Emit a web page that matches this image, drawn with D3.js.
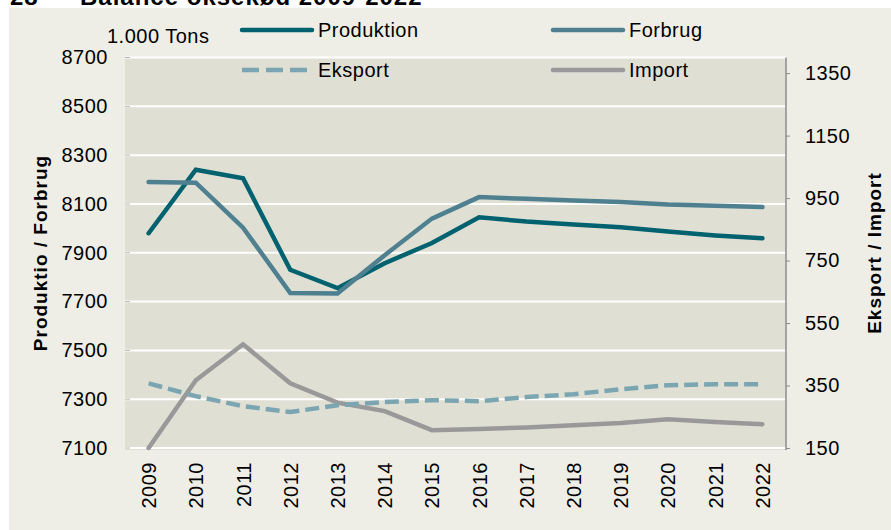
<!DOCTYPE html>
<html><head><meta charset="utf-8">
<script src="https://cdn.jsdelivr.net/npm/d3@7"></script>
<style>
html,body{margin:0;padding:0;background:#fff;}
svg{display:block;font-family:"Liberation Sans",Arial,sans-serif;}
</style></head>
<body><svg id="c" width="891" height="530"></svg>
<script>
const years = ["2009","2010","2011","2012","2013","2014","2015","2016","2017","2018","2019","2020","2021","2022"];
const produktion = [7980, 8240, 8205, 7830, 7755, 7857, 7940, 8045, 8028, 8016, 8004, 7987, 7971, 7959];
const forbrug    = [8190, 8187, 8003, 7735, 7733, 7890, 8040, 8128, 8121, 8114, 8108, 8098, 8093, 8087];
const eksport    = [357, 316, 284, 265, 287, 297, 303, 300, 313, 322, 338, 351, 354, 354];
const importV    = [150, 367, 482, 357, 295, 268, 207, 211, 216, 223, 230, 242, 233, 226];
const leftTicks  = [7100, 7300, 7500, 7700, 7900, 8100, 8300, 8500, 8700];
const rightTicks = [150, 350, 550, 750, 950, 1150, 1350];
const title = "28";
const titleText = "Balance oksekød 2009-2022";
const unitLabel = "1.000 Tons";
const leftTitle = "Produktio / Forbrug";
const rightTitle = "Eksport / Import";

const svg = d3.select("#c");
const P = {l:125, r:786, t:57.5, b:448};
const FS = 20, LS = 0.5;

svg.append("rect").attr("x",9).attr("y",8).attr("width",891-9).attr("height",530-8).attr("fill","#EEEEE7");
svg.append("rect").attr("x",P.l).attr("y",P.t).attr("width",P.r-P.l).attr("height",450-P.t).attr("fill","#E0DFD4");

svg.append("text").attr("x",10).attr("y",5).attr("font-size",24).attr("font-weight","bold").attr("letter-spacing",1).attr("fill","#000").text(title);
svg.append("text").attr("x",80).attr("y",5).attr("font-size",24).attr("font-weight","bold").attr("letter-spacing",1).attr("fill","#000").text(titleText);

const x = d3.scalePoint().domain(years).range([P.l,P.r]).padding(0.5);
const yL = d3.scaleLinear().domain([7100,8700]).range([P.b,P.t]);
const yR = d3.scaleLinear().domain([150,1400]).range([P.b,P.t]);

svg.append("g").selectAll("line").data(leftTicks).join("line")
  .attr("x1",P.l).attr("x2",P.r).attr("y1",d=>yL(d)).attr("y2",d=>yL(d))
  .attr("stroke","#fff").attr("stroke-width",2);

const gL = svg.append("g").attr("transform",`translate(${P.l},0)`)
  .call(d3.axisLeft(yL).tickValues(leftTicks).tickSize(0).tickPadding(17).tickFormat(d3.format("d")));
gL.select(".domain").remove();
gL.selectAll("text").attr("font-size",FS).attr("letter-spacing",LS).attr("fill","#000").attr("font-family","Liberation Sans, Arial, sans-serif");
svg.append("g").selectAll("line").data(leftTicks).join("line")
  .attr("x1",P.l).attr("x2",P.l+5).attr("y1",d=>yL(d)).attr("y2",d=>yL(d)).attr("stroke","#b8b8b0").attr("stroke-width",1);

const gR = svg.append("g").attr("transform",`translate(${P.r},0)`)
  .call(d3.axisRight(yR).tickValues(rightTicks).tickSize(4).tickPadding(15).tickFormat(d3.format("d")));
gR.select(".domain").attr("d",`M0,${P.t}V450`).attr("stroke","#8c8c8c").attr("stroke-width",1.5);
gR.selectAll(".tick line").attr("stroke","#8c8c8c").attr("stroke-width",1);
gR.selectAll("text").attr("font-size",FS).attr("letter-spacing",LS).attr("fill","#000").attr("font-family","Liberation Sans, Arial, sans-serif");

const gX = svg.append("g").attr("transform",`translate(0,450)`)
  .call(d3.axisBottom(x).tickSize(0).tickPadding(0));
gX.select(".domain").remove();
gX.selectAll("text").attr("font-size",FS).attr("letter-spacing",LS).attr("fill","#000")
  .attr("font-family","Liberation Sans, Arial, sans-serif")
  .attr("text-anchor","end").attr("dy","0.35em")
  .attr("transform","translate(0,12) rotate(-90)").attr("x",0).attr("y",0);

svg.append("text").attr("transform","translate(47,253) rotate(-90)").attr("text-anchor","middle")
  .attr("font-size",19).attr("font-weight","bold").attr("letter-spacing",1).text(leftTitle);
svg.append("text").attr("transform","translate(881,253) rotate(-90)").attr("text-anchor","middle")
  .attr("font-size",19).attr("font-weight","bold").attr("letter-spacing",1).text(rightTitle);

svg.append("text").attr("x",107).attr("y",43).attr("font-size",FS).attr("letter-spacing",LS).text(unitLabel);

const lineL = d3.line().x((d,i)=>x(years[i])).y(d=>yL(d));
const lineR = d3.line().x((d,i)=>x(years[i])).y(d=>yR(d));
const series = [
  {name:"Forbrug", data:forbrug, gen:lineL, color:"#4E8090", dash:null},
  {name:"Produktion", data:produktion, gen:lineL, color:"#00626F", dash:null},
  {name:"Import", data:importV, gen:lineR, color:"#999999", dash:null},
  {name:"Eksport", data:eksport, gen:lineR, color:"#7BA6B1", dash:"14,6"}
];
const drawOrder = [series[2], series[3], series[1], series[0]];
svg.append("g").selectAll("path").data(drawOrder).join("path")
  .attr("d",s=>s.gen(s.data)).attr("fill","none").attr("stroke",s=>s.color)
  .attr("stroke-width",4.5).attr("stroke-linejoin","miter")
  .attr("stroke-linecap",s=>s.dash?"butt":"round")
  .attr("stroke-dasharray",s=>s.dash);

const legend = [
  {s:series[1], x:242, y:30},
  {s:series[0], x:553, y:30},
  {s:series[3], x:242, y:70},
  {s:series[2], x:553, y:70}
];
const lg = svg.append("g").selectAll("g").data(legend).join("g");
lg.append("line").attr("x1",d=>d.x).attr("x2",d=>d.x+70).attr("y1",d=>d.y).attr("y2",d=>d.y)
  .attr("stroke",d=>d.s.color).attr("stroke-width",4.5)
  .attr("stroke-linecap",d=>d.s.dash?"butt":"round").attr("stroke-dasharray",d=>d.s.dash?"17,7":null);
lg.append("text").attr("x",d=>d.x+76).attr("y",d=>d.y+7).attr("font-size",FS).attr("letter-spacing",LS).text(d=>d.s.name);
</script></body></html>
